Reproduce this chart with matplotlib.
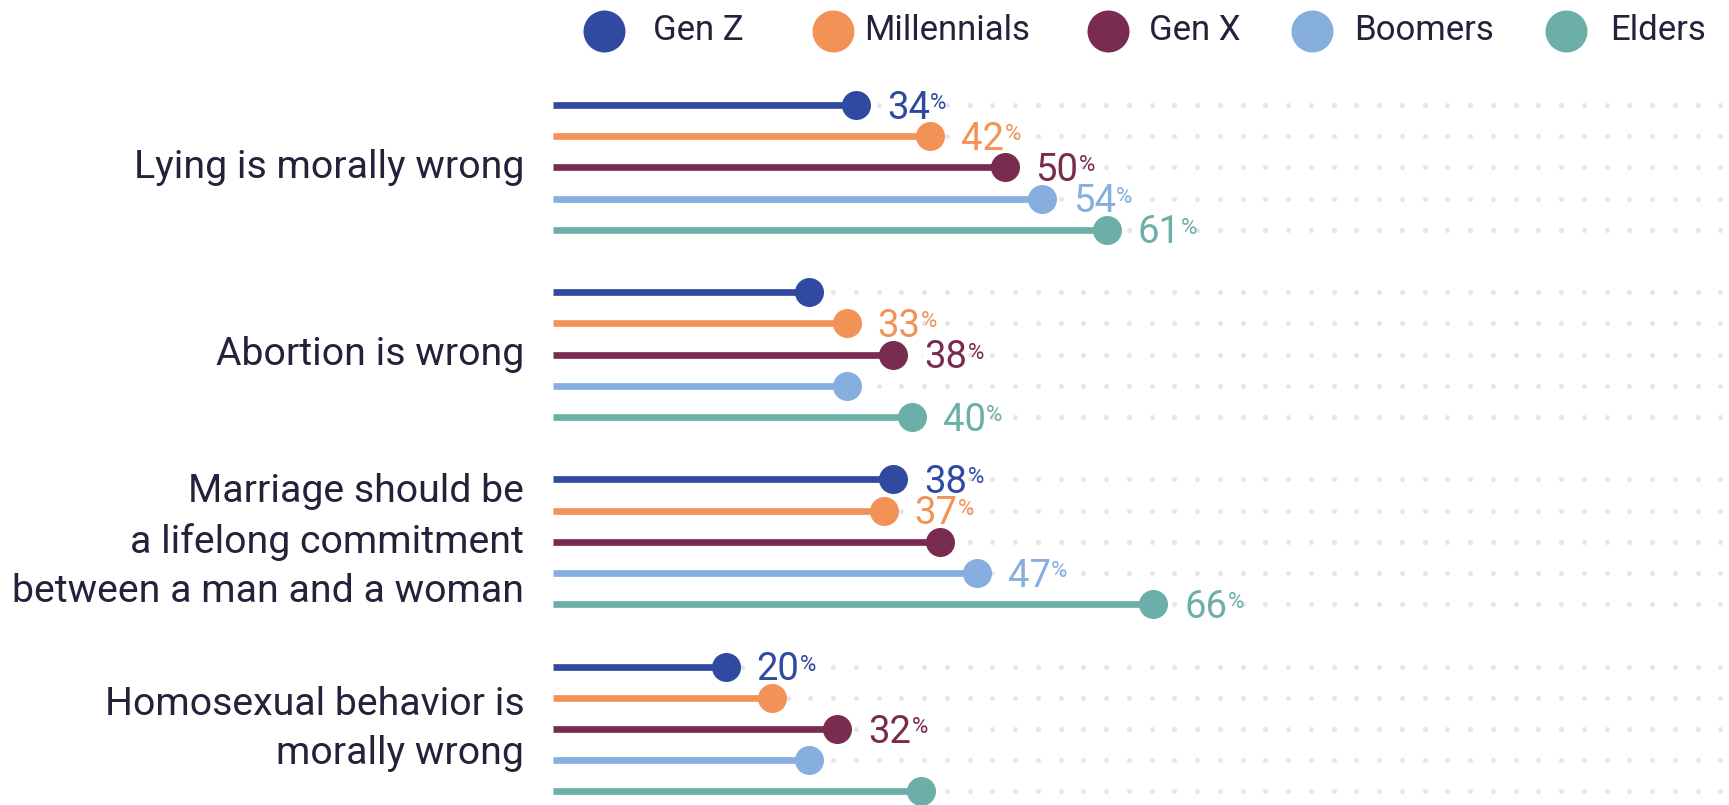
import numpy as np
import matplotlib
matplotlib.use("Agg")
import matplotlib.pyplot as plt

plt.rcParams['font.family'] = ['Roboto', 'DejaVu Sans']

# ---------------- data ----------------
categories = [
    "Lying is morally wrong",
    "Abortion is wrong",
    "Marriage should be\na lifelong commitment\nbetween a man and a woman",
    "Homosexual behavior is\nmorally wrong",
]
generations = ["Gen Z", "Millennials", "Gen X", "Boomers", "Elders"]

gen_z       = [34, 29, 38, 20]
millennials = [42, 33, 37, 25]
gen_x       = [50, 38, 43, 32]
boomers     = [54, 33, 47, 29]
elders      = [61, 40, 66, 41]

# which values carry a printed label in the original
show_gen_z       = [True, False, True, True]
show_millennials = [True, True, True, False]
show_gen_x       = [True, True, False, True]
show_boomers     = [True, False, True, False]
show_elders      = [True, True, True, False]

series = [gen_z, millennials, gen_x, boomers, elders]
shows = [show_gen_z, show_millennials, show_gen_x, show_boomers, show_elders]

# ---------------- style ----------------
colors = ["#2F4AA0", "#F39257", "#7A2B50", "#86AEDF", "#6BAFA8"]
text_color = "#22223A"
W, H = 1729, 805
DPI = 100
px = 72.0 / DPI  # points per pixel

zero_px = 539.6
pct_px = 9.30
row0_px = 105.0
row_step = 31.2
line_start = 1.4

fig = plt.figure(figsize=(W / DPI, H / DPI), dpi=DPI)
ax = fig.add_axes([0, 0, 1, 1])
ax.set_xlim(-zero_px / pct_px, (W - zero_px) / pct_px)
ax.set_ylim((H - row0_px) / row_step, -row0_px / row_step)
ax.axis("off")

# background dotted guide rows
grid_x = (np.arange(560, 1725, 22.75) - zero_px) / pct_px
for g in range(len(categories)):
    for k in range(len(generations)):
        r = 6 * g + k
        ax.plot(grid_x, np.full_like(grid_x, r), linestyle="none", marker="o",
                markersize=5 * px, color="#E6E6EA", markeredgewidth=0, zorder=1)

# lollipops
for k, (vals, shw) in enumerate(zip(series, shows)):
    for g, v in enumerate(vals):
        r = 6 * g + k
        ax.plot([line_start, v], [r, r], color=colors[k], lw=6.7 * px,
                solid_capstyle="butt", zorder=3)
        ax.plot([v], [r], marker="o", markersize=29 * px, color=colors[k],
                markeredgewidth=0, zorder=4)
        if shw[g]:
            num = ax.annotate(f"{v}", xy=(v, r), xytext=(31 * px, -9.8),
                              textcoords="offset points", ha="left", va="baseline",
                              fontsize=27.5, color=colors[k], zorder=2,
                              bbox=dict(boxstyle="square,pad=0.02", fc="white", ec="none"))
            ax.annotate("%", xy=(1, 1), xycoords=num, xytext=(0.3, -2.5),
                        textcoords="offset points", ha="left", va="top",
                        fontsize=16, color=colors[k], zorder=2)

# category labels
for g, cat in enumerate(categories):
    r = 6 * g + 2
    ax.annotate(cat, xy=(-1.65, r), xytext=(0, 0), textcoords="offset points",
                ha="right", va="center", fontsize=28.3, color=text_color,
                linespacing=1.42, multialignment="right")

# legend (manual)
leg_circle_x = [604, 833, 1108, 1312, 1566]
leg_text_x = [653, 864, 1149, 1354, 1610]
leg_y = 31
for k, name in enumerate(generations):
    fig.add_artist(plt.Line2D([leg_circle_x[k] / W], [1 - leg_y / H], marker="o",
                              markersize=42 * px, color=colors[k], markeredgewidth=0,
                              linestyle="none", transform=fig.transFigure))
    fig.text(leg_text_x[k] / W, 1 - leg_y / H, name, ha="left", va="center",
             fontsize=25, color=text_color)

fig.savefig("out.png", dpi=DPI, facecolor="white")
